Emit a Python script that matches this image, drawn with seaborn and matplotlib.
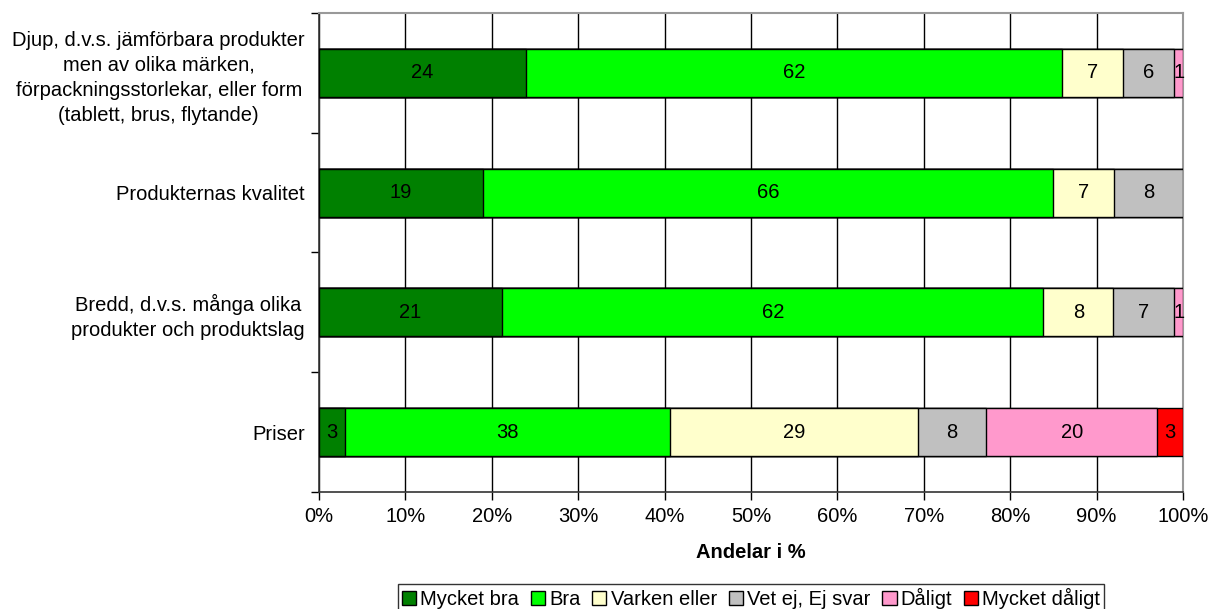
import numpy as np
import pandas as pd
import matplotlib
matplotlib.use("Agg")
import matplotlib.pyplot as plt
import seaborn as sns
from matplotlib.patches import Patch
from matplotlib.ticker import FixedLocator, PercentFormatter

# Data (raw answer shares, shown as labels; bars are normalised to 100 %)
categories = [
    "Djup, d.v.s. jämförbara produkter\nmen av olika märken,\nförpackningsstorlekar, eller form\n(tablett, brus, flytande)",
    "Produkternas kvalitet",
    "Bredd, d.v.s. många olika\nprodukter och produktslag",
    "Priser",
]
series = ["Mycket bra", "Bra", "Varken eller", "Vet ej, Ej svar", "Dåligt", "Mycket dåligt"]
mycket_bra = [24, 19, 21, 3]
bra = [62, 66, 62, 38]
varken = [7, 7, 8, 29]
vet_ej = [6, 8, 7, 8]
daligt = [1, 0, 1, 20]
mycket_daligt = [0, 0, 0, 3]
colors = ["#008000", "#00FF00", "#FFFFCC", "#C0C0C0", "#FF99CC", "#FF0000"]
xticks = list(range(0, 101, 10))

FS = 14.5

sns.set_theme(style="white")
plt.rcParams["font.family"] = ["Liberation Sans", "DejaVu Sans"]
plt.rcParams["text.color"] = "black"
plt.rcParams["xtick.color"] = "black"
plt.rcParams["ytick.color"] = "black"
plt.rcParams["axes.labelcolor"] = "black"

raw = pd.DataFrame(
    np.array([mycket_bra, bra, varken, vet_ej, daligt, mycket_daligt]).T,
    index=categories, columns=series,
)
pct = raw.div(raw.sum(axis=1), axis=0) * 100
cum = pct.cumsum(axis=1)

fig = plt.figure(figsize=(12.1, 6.09), dpi=100)
ax = fig.add_axes([0.2636, 0.1921, 0.7141, 0.7866])

# draw cumulative bars from the last series backwards so each covers the next
for col, color in reversed(list(zip(series, colors))):
    df = pd.DataFrame({"cat": categories, "val": cum[col].values})
    sns.barplot(data=df, x="val", y="cat", orient="h", color=color,
                edgecolor="black", linewidth=1, width=0.4, saturation=1,
                ax=ax, zorder=3)

# value labels
for i, cat in enumerate(categories):
    for col in series:
        v = raw.loc[cat, col]
        if v == 0:
            continue
        center = cum.loc[cat, col] - pct.loc[cat, col] / 2
        ax.text(center, i, f"{v}", ha="center", va="center", fontsize=FS,
                color="black", zorder=4)

ax.set_xlim(0, 100)
ax.set_ylim(len(categories) - 0.5, -0.5)
ax.set_xticks(xticks)
ax.xaxis.set_major_formatter(PercentFormatter(decimals=0))
ax.grid(axis="x", color="black", linewidth=1, zorder=0)
ax.set_axisbelow(True)

ax.yaxis.set_minor_locator(FixedLocator(np.arange(-0.5, len(categories), 1)))
ax.tick_params(axis="y", which="major", length=0, pad=10, labelsize=FS,
               labelcolor="black")
ax.tick_params(axis="y", which="minor", length=6, width=1, color="black",
               direction="out", left=True)
ax.tick_params(axis="x", which="major", length=6, width=1, color="black",
               direction="out", bottom=True, pad=5, labelsize=FS,
               labelcolor="black")
for lbl in ax.get_yticklabels():
    lbl.set_multialignment("center")
    lbl.set_linespacing(1.4)

ax.set_ylabel("")
ax.set_xlabel("Andelar i %", fontsize=FS, fontweight="bold", labelpad=12,
              color="black")

for side in ["left", "bottom"]:
    ax.spines[side].set_color("#333333")
    ax.spines[side].set_linewidth(1.2)
for side in ["top", "right"]:
    ax.spines[side].set_color("#999999")
    ax.spines[side].set_linewidth(1.5)

handles = [Patch(facecolor=c, edgecolor="black", linewidth=1, label=s)
           for s, c in zip(series, colors)]
leg = fig.legend(handles=handles, loc="upper center", bbox_to_anchor=(0.6207, 0.041),
                 ncol=6, fontsize=FS, frameon=True, fancybox=False,
                 handlelength=0.7, handleheight=0.7, handletextpad=0.2,
                 columnspacing=0.6, borderpad=0.2, borderaxespad=0)
leg.get_frame().set_edgecolor("black")
leg.get_frame().set_linewidth(1)
for t in leg.get_texts():
    t.set_color("black")

fig.savefig("out.png", dpi=100)
